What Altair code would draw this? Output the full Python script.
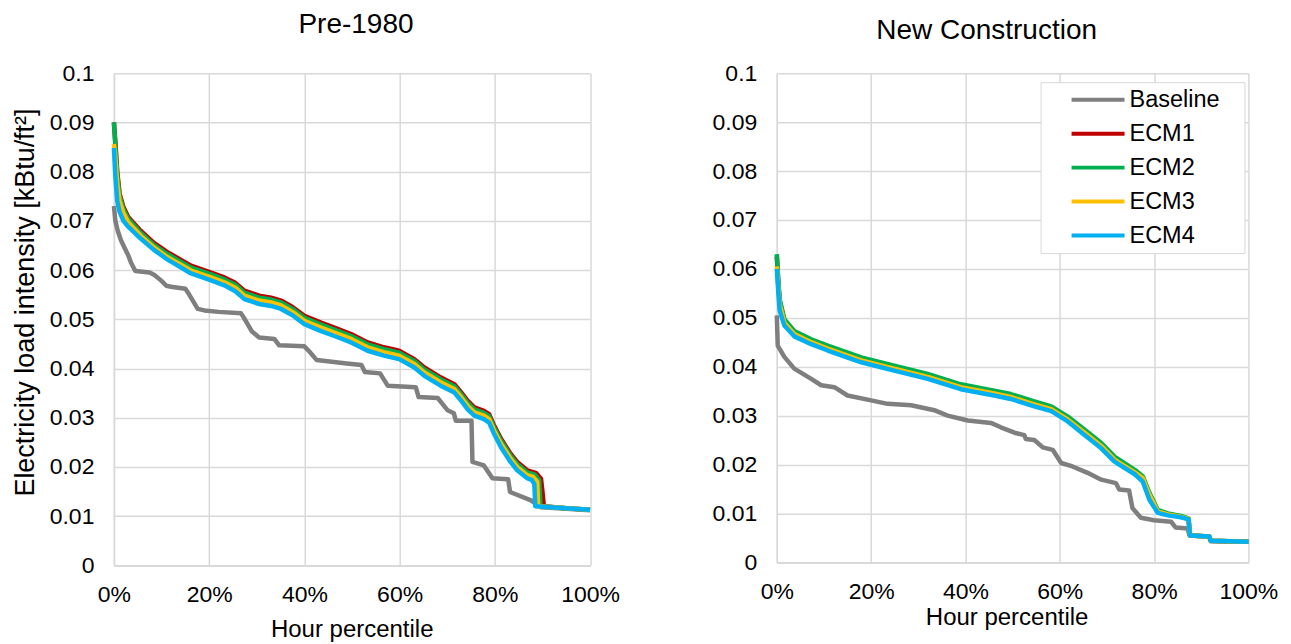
import altair as alt
import pandas as pd

FONT = "Liberation Sans"
SERIES = ["Baseline", "ECM1", "ECM2", "ECM3", "ECM4"]
COLORS = ["#7F7F7F", "#C00000", "#00B050", "#FFC000", "#00B0F0"]

X_TICKS = [0, 20, 40, 60, 80, 100]
Y_TICKS = [0, 0.01, 0.02, 0.03, 0.04, 0.05, 0.06, 0.07, 0.08, 0.09, 0.1]

# ---------------- Pre-1980 ----------------
pre_base_x = [0, 0.3, 0.8, 1.5, 2.2, 3.0, 3.6, 4.5, 7.5, 8.5, 10.0, 11.0, 12.0, 15.0, 15.5, 17.6, 19.0, 22.0, 26.7,
              27.5, 29.0, 30.5, 33.7, 34.7, 40.0, 41.0, 42.6, 48.9, 52.0, 52.7, 55.9, 57.5, 63.4, 64.0, 68.0, 70.1,
              71.4, 71.8, 75.1, 75.3, 77.7, 79.5, 82.8, 83.2, 87.6, 89.0, 89.7, 95.0, 100]
pre_base_y = [0.0730, 0.0700, 0.0680, 0.0660, 0.0646, 0.0630, 0.0615, 0.0598, 0.0595, 0.0590, 0.0578, 0.0568, 0.0566,
              0.0562, 0.0555, 0.0521, 0.0518, 0.0515, 0.0512, 0.0500, 0.0475, 0.0463, 0.0460, 0.0447, 0.0445, 0.0435,
              0.0417, 0.0410, 0.0407, 0.0393, 0.0390, 0.0365, 0.0362, 0.0342, 0.0340, 0.0315, 0.0309, 0.0294, 0.0294,
              0.0210, 0.0203, 0.0177, 0.0175, 0.0149, 0.0132, 0.0122, 0.0118, 0.0115, 0.0112]

pre_ecm_x = [0, 0.3, 0.7, 1.2, 2.0, 3.0, 5.6, 8.4, 11.3, 12.0, 16.2, 20.4, 23.2, 25.5, 27.4, 30.5, 33.0, 35.1, 37.5,
             40.0, 43.5, 46.3, 49.8, 53.3, 56.7, 59.9, 63.1, 65.2, 68.6, 71.5, 72.9, 74.3, 75.7, 77.7, 78.8, 79.8,
             81.3, 83.3, 84.7, 86.8]

pre_ecm1_x = pre_ecm_x + [88.6, 89.7, 90.0, 90.3, 95.0, 100]
pre_ecm1_y = [0.0900, 0.0860, 0.0800, 0.0755, 0.0728, 0.0708, 0.0680, 0.0655, 0.0636, 0.0632, 0.0609, 0.0595, 0.0585,
              0.0574, 0.0558, 0.0548, 0.0544, 0.0538, 0.0525, 0.0507, 0.0493, 0.0483, 0.0470, 0.0453, 0.0443, 0.0436,
              0.0419, 0.0402, 0.0382, 0.0368, 0.0352, 0.0334, 0.0321, 0.0314, 0.0307, 0.0285, 0.0257, 0.0227, 0.0210,
              0.0193, 0.0188, 0.0176, 0.0150, 0.0120, 0.0116, 0.0113]

pre_ecm2_x = pre_ecm_x + [88.4, 89.3, 89.6, 95.0, 100]
pre_ecm2_y = [0.0900, 0.0852, 0.0794, 0.0750, 0.0724, 0.0704, 0.0676, 0.0651, 0.0632, 0.0628, 0.0605, 0.0591, 0.0581,
              0.0570, 0.0554, 0.0544, 0.0540, 0.0534, 0.0521, 0.0503, 0.0489, 0.0479, 0.0466, 0.0449, 0.0439, 0.0432,
              0.0415, 0.0398, 0.0378, 0.0364, 0.0348, 0.0330, 0.0317, 0.0310, 0.0303, 0.0281, 0.0253, 0.0223, 0.0206,
              0.0189, 0.0184, 0.0173, 0.0120, 0.0116, 0.0113]

pre_ecm3_x = pre_ecm_x + [88.0, 88.9, 89.1, 95.0, 100]
pre_ecm3_y = [0.0856, 0.0830, 0.0775, 0.0740, 0.0716, 0.0697, 0.0670, 0.0646, 0.0626, 0.0622, 0.0599, 0.0585, 0.0575,
              0.0564, 0.0548, 0.0538, 0.0534, 0.0528, 0.0515, 0.0497, 0.0483, 0.0473, 0.0460, 0.0443, 0.0433, 0.0426,
              0.0409, 0.0392, 0.0372, 0.0358, 0.0342, 0.0324, 0.0311, 0.0304, 0.0297, 0.0275, 0.0247, 0.0217, 0.0200,
              0.0183, 0.0180, 0.0170, 0.0120, 0.0116, 0.0113]

pre_ecm4_x = pre_ecm_x + [87.8, 88.3, 88.5, 95.0, 100]
pre_ecm4_y = [0.0848, 0.0790, 0.0740, 0.0718, 0.0700, 0.0688, 0.0664, 0.0641, 0.0621, 0.0617, 0.0593, 0.0579, 0.0569,
              0.0557, 0.0541, 0.0531, 0.0527, 0.0521, 0.0508, 0.0490, 0.0476, 0.0466, 0.0453, 0.0436, 0.0426, 0.0419,
              0.0402, 0.0385, 0.0365, 0.0351, 0.0335, 0.0317, 0.0304, 0.0297, 0.0290, 0.0268, 0.0240, 0.0210, 0.0193,
              0.0177, 0.0173, 0.0165, 0.0120, 0.0116, 0.0113]

# ---------------- New Construction ----------------
new_base_x = [0, 0.2, 1.6, 3.7, 7.3, 9.4, 12.2, 15.0, 20.0, 23.5, 28.5, 33.4, 36.2, 40.5, 45.4, 47.5, 50.4, 52.5,
              52.8, 54.6, 56.4, 58.5, 60.3, 62.7, 65.9, 68.8, 71.9, 72.6, 74.7, 75.4, 77.2, 80.0, 83.6, 84.6, 87.1,
              87.5, 91.7, 92.0, 100]
new_base_y = [0.0505, 0.0443, 0.0420, 0.0396, 0.0375, 0.0362, 0.0358, 0.0341, 0.0331, 0.0324, 0.0321, 0.0311, 0.0300,
              0.0290, 0.0285, 0.0276, 0.0265, 0.0260, 0.0252, 0.0250, 0.0235, 0.0230, 0.0203, 0.0196, 0.0183, 0.0169,
              0.0162, 0.0149, 0.0147, 0.0111, 0.0091, 0.0086, 0.0083, 0.0071, 0.0069, 0.0055, 0.0053, 0.0043, 0.0042]

new_ecm_x = [0, 0.3, 0.6, 1.6, 3.7, 7.3, 10.8, 17.9, 24.9, 32.0, 39.0, 46.1, 49.6, 54.6, 58.2, 61.7, 65.3, 68.8,
             71.6, 75.9, 77.6, 79.0, 80.8, 82.9, 85.7, 87.3, 87.6, 91.7, 92.0, 100]
new_ecm1_y = [0.0625, 0.0576, 0.0535, 0.0495, 0.0471, 0.0454, 0.0441, 0.0417, 0.0400, 0.0383, 0.0362, 0.0349, 0.0342,
              0.0327, 0.0317, 0.0296, 0.0269, 0.0242, 0.0214, 0.0187, 0.0174, 0.0140, 0.0105, 0.0099, 0.0094, 0.0089,
              0.0055, 0.0053, 0.0044, 0.0042]
new_ecm2_y = [0.0630, 0.0580, 0.0538, 0.0497, 0.0473, 0.0456, 0.0443, 0.0419, 0.0402, 0.0385, 0.0364, 0.0351, 0.0344,
              0.0329, 0.0319, 0.0298, 0.0271, 0.0244, 0.0216, 0.0189, 0.0176, 0.0142, 0.0107, 0.0100, 0.0095, 0.0090,
              0.0055, 0.0053, 0.0044, 0.0042]
new_ecm3_y = [0.0605, 0.0565, 0.0528, 0.0490, 0.0467, 0.0450, 0.0437, 0.0413, 0.0396, 0.0379, 0.0358, 0.0345, 0.0338,
              0.0323, 0.0313, 0.0292, 0.0265, 0.0238, 0.0210, 0.0184, 0.0172, 0.0138, 0.0104, 0.0098, 0.0093, 0.0089,
              0.0055, 0.0053, 0.0044, 0.0042]
new_ecm4_y = [0.0600, 0.0555, 0.0515, 0.0484, 0.0462, 0.0446, 0.0433, 0.0409, 0.0392, 0.0375, 0.0354, 0.0341, 0.0334,
              0.0319, 0.0309, 0.0288, 0.0260, 0.0233, 0.0206, 0.0180, 0.0165, 0.0128, 0.0101, 0.0096, 0.0092, 0.0088,
              0.0055, 0.0053, 0.0044, 0.0042]


def build(pairs):
    rows = []
    for name, xs, ys in pairs:
        for x, y in zip(xs, ys):
            rows.append({"series": name, "pct": x, "value": y})
    return pd.DataFrame(rows)


pre_df = build([
    ("Baseline", pre_base_x, pre_base_y),
    ("ECM1", pre_ecm1_x, pre_ecm1_y),
    ("ECM2", pre_ecm2_x, pre_ecm2_y),
    ("ECM3", pre_ecm3_x, pre_ecm3_y),
    ("ECM4", pre_ecm4_x, pre_ecm4_y),
])
new_df = build([
    ("Baseline", new_base_x, new_base_y),
    ("ECM1", new_ecm_x, new_ecm1_y),
    ("ECM2", new_ecm_x, new_ecm2_y),
    ("ECM3", new_ecm_x, new_ecm3_y),
    ("ECM4", new_ecm_x, new_ecm4_y),
])


def panel(df, title, width, height, title_offset, title_dx, y_title, legend, x_title_pad, x_title_x):
    color_scale = alt.Scale(domain=SERIES, range=COLORS)
    if legend is None:
        color = alt.Color("series:N", scale=color_scale, legend=None)
    else:
        color = alt.Color("series:N", scale=color_scale, legend=legend)
    y_axis_kwargs = dict(values=Y_TICKS, format=".2~f", labelPadding=20, labelFlush=False)
    if y_title:
        y_axis_kwargs.update(title=y_title, titlePadding=10, titleFontSize=27, titleY=229)
    else:
        y_axis_kwargs.update(title=None)
    return alt.Chart(
        df,
        title=alt.TitleParams(title, fontSize=28, font=FONT, fontWeight="normal", color="black",
                              offset=title_offset, dx=title_dx, anchor="middle"),
    ).mark_line(strokeWidth=4.5, strokeJoin="round").encode(
        x=alt.X("pct:Q", scale=alt.Scale(domain=[0, 100], nice=False),
                axis=alt.Axis(values=X_TICKS, labelExpr="datum.value + '%'", title="Hour percentile",
                              labelFlush=False, labelPadding=18, titlePadding=x_title_pad,
                              titleX=x_title_x, titleFontSize=24)),
        y=alt.Y("value:Q", scale=alt.Scale(domain=[0, 0.1], nice=False), axis=alt.Axis(**y_axis_kwargs)),
        color=color,
    ).properties(width=width, height=height)


legend = alt.Legend(
    orient="none", legendX=264, legendY=9, title=None, direction="vertical",
    symbolType="stroke", symbolSize=2809, symbolStrokeWidth=4, symbolOffset=23,
    labelFont=FONT, labelFontSize=23.5, labelColor="black", labelOffset=3,
    labelExpr="datum.label + '\u2800'",
    clipHeight=23, rowPadding=10, padding=6,
    strokeColor="#D9D9D9", fillColor="white",
)

left = panel(pre_df, "Pre-1980", 476.5, 492.5, 23.5, 4, "Electricity load intensity [kBtu/ft\u00b2]", None, 11.5, 238)
right = panel(new_df, "New Construction", 472, 489.5, 17.5, -26, None, legend, 2.5, 230)

chart = alt.hconcat(left, right, spacing=186.4).resolve_legend(color="independent").properties(
    padding={"left": 3, "top": 2, "right": 5, "bottom": 0},
    bounds="flush",
).configure_view(stroke=None).configure_axis(
    grid=True, gridColor="#D9D9D9", gridWidth=1.5,
    domainColor="#D9D9D9", domainWidth=1.5,
    ticks=False, tickSize=0,
    labelFont=FONT, labelFontSize=23, labelColor="black",
    titleFont=FONT, titleFontSize=24, titleFontWeight="normal", titleColor="black",
)

chart.save("out.html", embed_options={"renderer": "svg", "actions": False})
